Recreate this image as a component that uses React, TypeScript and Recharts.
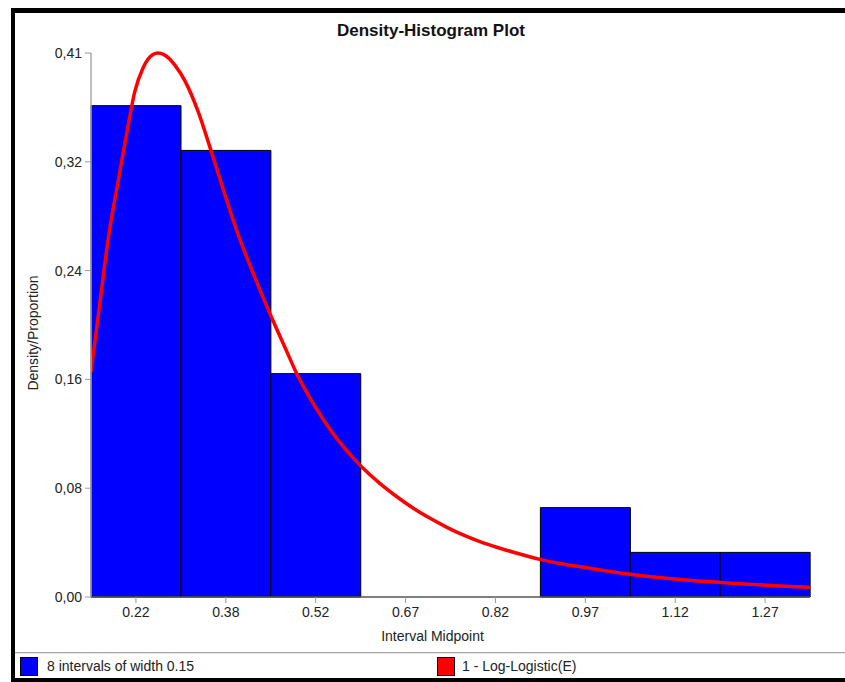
import React from 'react';
import { ComposedChart, Bar, Line, XAxis, YAxis } from 'recharts';

// Histogram: interval midpoints (tick labels) and density/proportion per interval
const midpointLabels = ['0.22', '0.38', '0.52', '0.67', '0.82', '0.97', '1.12', '1.27'];
const densities = [0.3667, 0.3333, 0.1667, 0, 0, 0.0667, 0.0333, 0.0333];

// Y axis ticks and their labels
const yTicks = [0, 0.0812, 0.1624, 0.2436, 0.3248, 0.406];
const yTickLabels = ['0,00', '0,08', '0,16', '0,24', '0,32', '0,41'];

// Fitted Log-Logistic(E) curve
const curveX = [0.15, 0.165, 0.179, 0.196, 0.212, 0.223, 0.237, 0.254, 0.262, 0.271, 0.29, 0.307, 0.329, 0.349, 0.368, 0.396, 0.424, 0.452, 0.474, 0.493, 0.527, 0.549, 0.577, 0.602, 0.632, 0.66, 0.688, 0.716, 0.744, 0.771, 0.799, 0.827, 0.855, 0.899, 0.938, 0.983, 1.05, 1.133, 1.217, 1.3, 1.35];
const curveY = [0.168, 0.22, 0.268, 0.312, 0.352, 0.377, 0.395, 0.405, 0.406, 0.405, 0.397, 0.385, 0.362, 0.335, 0.308, 0.27, 0.238, 0.208, 0.186, 0.167, 0.14, 0.125, 0.109, 0.097, 0.0848, 0.075, 0.0662, 0.0587, 0.052, 0.0463, 0.0413, 0.0371, 0.0334, 0.0281, 0.0246, 0.0214, 0.017, 0.013, 0.0103, 0.0083, 0.0072];
const curveDomain = [0.15, 1.35];

const barSeriesName = '8 intervals of width 0.15';
const curveSeriesName = '1 - Log-Logistic(E)';

const barData = midpointLabels.map((label, i) => ({ label, density: densities[i] }));
const curveData = curveX.map((x, i) => ({ x, y: curveY[i] }));

const FONT = '"Liberation Sans", Arial, sans-serif';

const YLabel = (props: any) => {
  const vb = props.viewBox || { x: 0, y: 0, width: 0, height: 0 };
  const cx = vb.x + 33;
  const cy = vb.y + vb.height / 2 + 8;
  return (
    <text
      x={cx}
      y={cy}
      transform={`rotate(-90, ${cx}, ${cy})`}
      textAnchor="middle"
      dominantBaseline="central"
      fontFamily={FONT}
      fontSize={14}
      fill="#222"
    >
      Density/Proportion
    </text>
  );
};

const XLabel = (props: any) => {
  const vb = props.viewBox || { x: 0, y: 0, width: 0, height: 0 };
  return (
    <text
      x={vb.x + vb.width / 2 - 18}
      y={vb.y + 44}
      textAnchor="middle"
      fontFamily={FONT}
      fontSize={14}
      fill="#222"
    >
      Interval Midpoint
    </text>
  );
};

export default function App() {
  return (
    <div
      style={{
        position: 'absolute',
        left: 0,
        top: 0,
        width: 845,
        height: 682,
        background: '#fff',
        overflow: 'hidden',
        fontFamily: FONT,
      }}
    >
      <div
        style={{
          position: 'absolute',
          left: 331,
          top: 21,
          width: 200,
          textAlign: 'center',
          fontSize: 17,
          lineHeight: '20px',
          fontWeight: 'bold',
          color: '#111',
          whiteSpace: 'nowrap',
        }}
      >
        Density-Histogram Plot
      </div>
      <div style={{ position: 'absolute', left: 0, top: 0 }}>
        <ComposedChart
          width={845}
          height={653}
          data={barData}
          margin={{ top: 53, right: 35, bottom: 16, left: 0 }}
          barCategoryGap={0}
          barGap={0}
        >
          <XAxis
            xAxisId="bars"
            dataKey="label"
            type="category"
            height={40}
            interval={0}
            tickSize={6}
            tickMargin={4}
            axisLine={{ stroke: '#555', strokeWidth: 1.5 }}
            tickLine={{ stroke: '#999' }}
            tick={{ fill: '#222', fontSize: 14, fontFamily: FONT }}
            label={<XLabel />}
          />
          <XAxis
            xAxisId="curve"
            dataKey="x"
            type="number"
            domain={curveDomain}
            allowDataOverflow
            hide
          />
          <YAxis
            width={91}
            type="number"
            domain={[yTicks[0], yTicks[yTicks.length - 1]]}
            ticks={yTicks}
            interval={0}
            tickSize={6}
            tickMargin={3}
            tickFormatter={(v: number) => {
              const i = yTicks.indexOf(v);
              return i >= 0 ? yTickLabels[i] : String(v);
            }}
            axisLine={{ stroke: '#aaa', strokeWidth: 1.5 }}
            tickLine={{ stroke: '#999' }}
            tick={{ fill: '#222', fontSize: 14, fontFamily: FONT }}
            label={<YLabel />}
          />
          <Bar
            xAxisId="bars"
            dataKey="density"
            name={barSeriesName}
            fill="#0000ff"
            stroke="#000"
            strokeWidth={1}
            isAnimationActive={false}
          />
          <Line
            xAxisId="curve"
            data={curveData}
            dataKey="y"
            name={curveSeriesName}
            type="monotone"
            stroke="#ff0000"
            strokeWidth={3.5}
            dot={false}
            activeDot={false}
            isAnimationActive={false}
          />
        </ComposedChart>
      </div>
      {/* separator above legend */}
      <div style={{ position: 'absolute', left: 15, top: 652, width: 830, height: 1, background: '#a8a8a8' }} />
      <div style={{ position: 'absolute', left: 15, top: 653, width: 830, height: 1, background: '#e4e4e4' }} />
      {/* legend */}
      <div style={{ position: 'absolute', left: 20, top: 657, width: 16, height: 17, background: '#0000ff', border: '1px solid #000' }} />
      <div style={{ position: 'absolute', left: 47, top: 657, fontSize: 14, lineHeight: '19px', color: '#222', whiteSpace: 'nowrap' }}>
        {barSeriesName}
      </div>
      <div style={{ position: 'absolute', left: 437, top: 657, width: 16, height: 17, background: '#ff0000', border: '1px solid #000' }} />
      <div style={{ position: 'absolute', left: 462, top: 657, fontSize: 14, lineHeight: '19px', color: '#222', whiteSpace: 'nowrap' }}>
        {curveSeriesName}
      </div>
      {/* window frame */}
      <div
        style={{
          position: 'absolute',
          left: 11,
          top: 8,
          width: 840,
          height: 674,
          boxSizing: 'border-box',
          borderTop: '5px solid #000',
          borderLeft: '4px solid #000',
          borderBottom: '4px solid #000',
          pointerEvents: 'none',
        }}
      />
    </div>
  );
}
